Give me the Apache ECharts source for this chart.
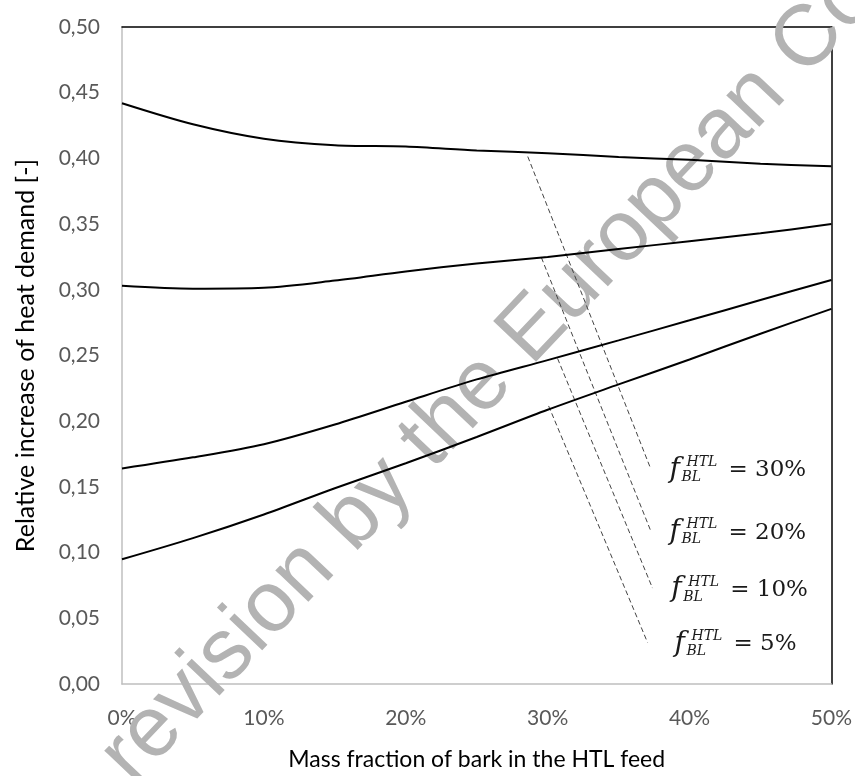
<!DOCTYPE html>
<html>
<head>
<meta charset="utf-8">
<script src="https://cdn.jsdelivr.net/npm/echarts@6/dist/echarts.min.js"></script>
<style>
html,body{margin:0;padding:0;background:#fff;}
#chart{width:855px;height:776px;}
</style>
</head>
<body>
<div id="chart"></div>
<script>
// x positions (mass fraction of bark, %)
const xValues = [0, 5, 10, 15, 20, 25, 30, 35, 40, 45, 50];
// relative increase of heat demand for each f_BL^HTL
const f30 = [0.442, 0.426, 0.415, 0.410, 0.409, 0.406, 0.404, 0.401, 0.399, 0.396, 0.394];
const f20 = [0.303, 0.3008, 0.3015, 0.307, 0.314, 0.320, 0.325, 0.331, 0.337, 0.343, 0.350];
const f10 = [0.164, 0.1725, 0.1825, 0.1975, 0.2148, 0.2318, 0.2465, 0.2615, 0.2768, 0.2922, 0.3075];
const f05 = [0.0949, 0.111, 0.129, 0.149, 0.168, 0.188, 0.2087, 0.228, 0.247, 0.2666, 0.2855];
// leader lines (data coordinates: [x %, y])
const leader30 = [[28.6, 0.4014], [37.25, 0.1642]];
const leader20 = [[29.56, 0.3245], [37.23, 0.1175]];
const leader10 = [[30.7, 0.2477], [37.39, 0.0730]];
const leader05 = [[30.07, 0.2116], [37.04, 0.0316]];
// annotation labels: text value and anchor (data coordinates)
const labelTexts = ['30%', '20%', '10%', '5%'];
const labelAnchors = [[38.59, 0.1634], [38.59, 0.1160], [38.71, 0.0723], [38.94, 0.0309]];
const xTicks = [0, 10, 20, 30, 40, 50];
const yTicks = [0, 0.05, 0.10, 0.15, 0.20, 0.25, 0.30, 0.35, 0.40, 0.45, 0.50];

const toPairs = (ys) => xValues.map((x, i) => [x, ys[i]]);
const chart = echarts.init(document.getElementById('chart'), null, {renderer: 'canvas'});
const FONT = 'Lato';
const curve = (name, ys) => ({
  name, type: 'line', data: toPairs(ys), smooth: 0.3, symbol: 'none',
  lineStyle: {color: '#000', width: 2}, z: 5
});
const leader = (arr) => ({
  type: 'line', data: arr, symbol: 'none', silent: true,
  lineStyle: {color: '#444', width: 1, type: [5, 3]}, z: 4
});

chart.setOption({
  animation: false,
  backgroundColor: '#fff',
  grid: {left: 122, top: 27, width: 710, height: 664, show: false},
  xAxis: [{
    type: 'value', min: 0, max: 50, interval: 10,
    axisLine: {show: true, onZero: false, lineStyle: {color: '#bfbfbf', width: 1.5}},
    axisTick: {show: false}, splitLine: {show: false},
    axisLabel: {formatter: v => xTicks.includes(v) ? v + '%' : '', fontSize: 21, color: '#595959', fontFamily: FONT, margin: 24},
    name: 'Mass fraction of bark in the HTL feed', nameLocation: 'middle', nameGap: 64,
    nameTextStyle: {fontSize: 23, color: '#000', fontFamily: FONT}
  }, {
    type: 'value', position: 'top', min: 0, max: 50, interval: 10,
    axisLine: {show: true, onZero: false, lineStyle: {color: '#000', width: 1.5}},
    axisTick: {show: false}, axisLabel: {show: false}, splitLine: {show: false}
  }],
  yAxis: [{
    type: 'value', min: 0, max: 0.5, interval: 0.05,
    axisLine: {show: true, onZero: false, lineStyle: {color: '#bfbfbf', width: 1.5}},
    axisTick: {show: false}, splitLine: {show: false},
    axisLabel: {formatter: v => v.toFixed(2).replace('.', ','), fontSize: 21, color: '#595959', fontFamily: FONT, margin: 22},
    name: 'Relative increase of heat demand [-]', nameLocation: 'middle', nameGap: 84,
    nameTextStyle: {fontSize: 25, color: '#000', fontFamily: FONT}
  }, {
    type: 'value', position: 'right', min: 0, max: 0.5, interval: 0.05,
    axisLine: {show: true, onZero: false, lineStyle: {color: '#000', width: 1.5}},
    axisTick: {show: false}, axisLabel: {show: false}, splitLine: {show: false}
  }],
  series: [
    curve('30%', f30), curve('20%', f20), curve('10%', f10), curve('5%', f05),
    leader(leader30), leader(leader20), leader(leader10), leader(leader05)
  ]
});

const graphics = [];
labelAnchors.forEach((a, i) => {
  const p = chart.convertToPixel({gridIndex: 0}, a);
  const x = p[0], y = p[1];
  graphics.push({type: 'text', x: x, y: y, z: 10, style: {text: 'f', font: 'italic 28px "DejaVu Serif"', fill: '#1a1a1a', textAlign: 'left', textVerticalAlign: 'middle'}});
  graphics.push({type: 'text', x: x + 17, y: y - 7, z: 10, style: {text: 'HTL', font: 'italic 14px "DejaVu Serif"', fill: '#1a1a1a', textAlign: 'left', textVerticalAlign: 'middle'}});
  graphics.push({type: 'text', x: x + 12, y: y + 8, z: 10, style: {text: 'BL', font: 'italic 14px "DejaVu Serif"', fill: '#1a1a1a', textAlign: 'left', textVerticalAlign: 'middle'}});
  graphics.push({type: 'text', x: x + 59, y: y + 1, z: 10, style: {text: '= ' + labelTexts[i], font: '23px "DejaVu Serif"', fill: '#1a1a1a', textAlign: 'left', textVerticalAlign: 'middle'}});
});
graphics.push({
  type: 'text', x: 116, y: 770, rotation: 46.5 * Math.PI / 180, z: 1, silent: true,
  style: {text: 'revision by the European Commission', font: '86px "Liberation Sans"', fill: '#b3b3b3', textAlign: 'left', textVerticalAlign: 'middle'}
});
chart.setOption({graphic: graphics});
</script>
</body>
</html>
